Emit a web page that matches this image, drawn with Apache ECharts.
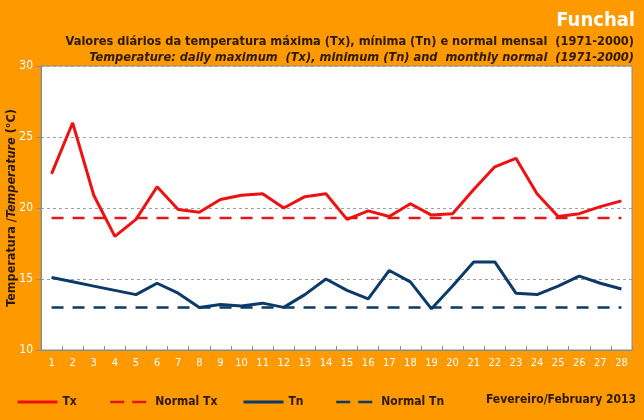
<!DOCTYPE html>
<html lang="pt">
<head>
    <meta charset="UTF-8">
    <title>Funchal - Fevereiro 2013</title>
    <script src="https://cdn.jsdelivr.net/npm/echarts@6.0.0/dist/echarts.min.js"></script>
    <style>
        html, body { margin: 0; padding: 0; background: #FF9900; }
        #chart { width: 644px; height: 420px; }
    </style>
</head>
<body>
    <div id="chart"></div>
    <script>
        // dias de Fevereiro 2013
        var days = [];
        for (var d = 1; d <= 28; d++) days.push(String(d));

        // temperatura máxima diária (°C)
        var tx = [22.4, 26.0, 20.9, 18.0, 19.2, 21.5, 19.9, 19.7, 20.6, 20.9, 21.0, 20.0, 20.8, 21.0,
                  19.2, 19.8, 19.4, 20.3, 19.5, 19.6, 21.3, 22.9, 23.5, 21.0, 19.4, 19.6, 20.1, 20.5];
        // temperatura mínima diária (°C)
        var tn = [15.1, 14.8, 14.5, 14.2, 13.9, 14.7, 14.0, 13.0, 13.2, 13.1, 13.3, 13.0, 13.9, 15.0,
                  14.2, 13.6, 15.6, 14.8, 12.9, 14.5, 16.2, 16.2, 14.0, 13.9, 14.5, 15.2, 14.7, 14.3];
        // normais mensais 1971-2000
        var normalTx = 19.3;
        var normalTn = 13.0;

        var yTicks = [10, 15, 20, 25, 30];

        var font = '"Liberation Sans Narrow", "DejaVu Sans Condensed", Arial, sans-serif';
        var dark = '#2b1a00';

        function flat(v) {
            return days.map(function () { return v; });
        }

        var chart = echarts.init(document.getElementById('chart'));

        function legendAt(left, name, dashed) {
            return {
                left: left,
                bottom: 12,
                padding: 0,
                data: [name],
                itemWidth: 40,
                itemHeight: 12,
                itemGap: 0,
                itemStyle: { opacity: 0 },
                lineStyle: dashed ? { type: [14, 8], width: 2.5 } : { width: 3 },
                textStyle: { color: dark, fontFamily: font, fontSize: 12, fontWeight: 'bold' }
            };
        }

        chart.setOption({
            backgroundColor: '#FF9900',
            animation: false,
            title: [
                {
                    text: 'Funchal', right: 4, top: 6,
                    textStyle: { color: '#ffffff', fontFamily: font, fontSize: 20, fontWeight: 'bold' }
                },
                {
                    text: 'Valores diários da temperatura máxima (Tx), mínima (Tn) e normal mensal  (1971-2000)',
                    right: 5, top: 30,
                    textStyle: { color: dark, fontFamily: font, fontSize: 12.7, fontWeight: 'bold' }
                },
                {
                    text: 'Temperature: daily maximum  (Tx), minimum (Tn) and  monthly normal  (1971-2000)',
                    right: 5, top: 46,
                    textStyle: { color: dark, fontFamily: font, fontSize: 12.7, fontWeight: 'bold', fontStyle: 'italic' }
                },
                {
                    text: 'Fevereiro/February 2013', right: 3, bottom: 9,
                    textStyle: { color: dark, fontFamily: font, fontSize: 12, fontWeight: 'bold' }
                }
            ],
            legend: [
                legendAt(16, 'Tx', false),
                legendAt(109, 'Normal Tx', true),
                legendAt(242, 'Tn', false),
                legendAt(335, 'Normal Tn', true)
            ],
            grid: {
                left: 41, right: 12, top: 66, bottom: 70,
                outerBoundsMode: 'none',
                containLabel: false,
                show: true,
                backgroundColor: '#ffffff',
                borderColor: '#8c8c8c',
                borderWidth: 1
            },
            xAxis: {
                type: 'category',
                data: days,
                boundaryGap: true,
                axisLine: { show: true, lineStyle: { color: '#8c8c8c' } },
                axisTick: { show: true, inside: true, length: 4, lineStyle: { color: '#8c8c8c' } },
                axisLabel: { color: '#ffffff', fontFamily: font, fontSize: 11, margin: 8, interval: 0 },
                splitLine: { show: false }
            },
            yAxis: {
                type: 'value',
                min: yTicks[0],
                max: yTicks[yTicks.length - 1],
                interval: 5,
                name: '{a|Temperatura /}{b|Temperature}{a| (°C)}',
                nameLocation: 'middle',
                nameGap: 23,
                nameMoveOverlap: false,
                nameTextStyle: {
                    rich: {
                        a: { color: dark, fontFamily: font, fontSize: 12.5, fontWeight: 'bold' },
                        b: { color: dark, fontFamily: font, fontSize: 12.5, fontWeight: 'bold', fontStyle: 'italic' }
                    }
                },
                axisLine: { show: true, lineStyle: { color: '#8c8c8c' } },
                axisTick: { show: true, inside: false, length: 5, lineStyle: { color: '#8c8c8c' } },
                axisLabel: { color: '#ffffff', fontFamily: font, fontSize: 12, margin: 8 },
                splitLine: { show: true, lineStyle: { color: '#a0a0a0', type: [3, 3], width: 1 } }
            },
            series: [
                {
                    name: 'Tx', type: 'line', data: tx, symbol: 'none',
                    lineStyle: { color: '#ee1111', width: 3 }, itemStyle: { color: '#ee1111' }, z: 4
                },
                {
                    name: 'Normal Tx', type: 'line', data: flat(normalTx), symbol: 'none',
                    lineStyle: { color: '#dd1a1a', width: 2.5, type: [12, 9] }, itemStyle: { color: '#dd1a1a' }, z: 3
                },
                {
                    name: 'Tn', type: 'line', data: tn, symbol: 'none',
                    lineStyle: { color: '#0b3a68', width: 3 }, itemStyle: { color: '#0b3a68' }, z: 4
                },
                {
                    name: 'Normal Tn', type: 'line', data: flat(normalTn), symbol: 'none',
                    lineStyle: { color: '#0b3a68', width: 2.5, type: [12, 9] }, itemStyle: { color: '#0b3a68' }, z: 3
                }
            ]
        });
    </script>
</body>
</html>
